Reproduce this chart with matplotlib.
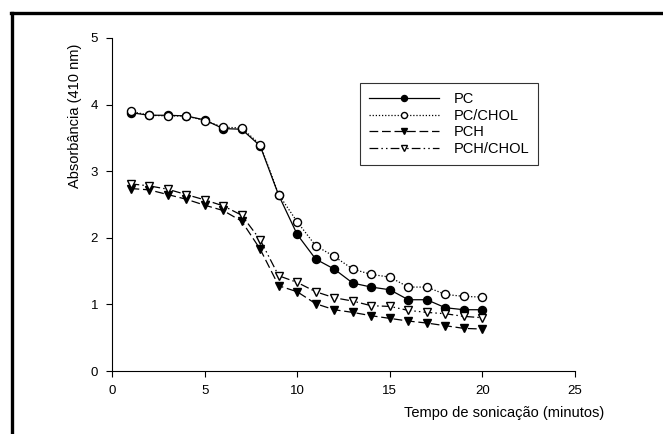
import numpy as np
import matplotlib
matplotlib.use('Agg')
import matplotlib.pyplot as plt
from matplotlib.lines import Line2D

plt.rcParams['font.family'] = ['Liberation Sans', 'DejaVu Sans']

tempo = np.arange(1, 21)

pc = [3.88, 3.84, 3.84, 3.83, 3.77, 3.64, 3.63, 3.38, 2.64, 2.05,
      1.68, 1.53, 1.32, 1.26, 1.22, 1.07, 1.07, 0.95, 0.92, 0.92]
pc_chol = [3.90, 3.84, 3.83, 3.83, 3.76, 3.66, 3.65, 3.40, 2.65, 2.24,
           1.88, 1.72, 1.53, 1.45, 1.41, 1.26, 1.26, 1.15, 1.12, 1.11]
pch = [2.74, 2.72, 2.65, 2.58, 2.49, 2.41, 2.25, 1.83, 1.28, 1.19,
       1.01, 0.92, 0.88, 0.83, 0.79, 0.75, 0.72, 0.68, 0.64, 0.63]
pch_chol = [2.81, 2.78, 2.73, 2.65, 2.57, 2.48, 2.34, 1.97, 1.43, 1.33,
            1.19, 1.10, 1.05, 0.98, 0.97, 0.91, 0.88, 0.86, 0.82, 0.80]

fig = plt.figure(figsize=(6.63, 4.34), dpi=100)
ax = fig.add_axes([112 / 663, 1 - 371 / 434, 463 / 663, 333 / 434])

lw = 0.9
ms = 5.8
ax.plot(tempo, pc, color='black', lw=lw, ls='-', marker='o', ms=ms,
        mfc='black', mec='black', label='PC')
ax.plot(tempo, pc_chol, color='black', lw=lw, ls=(0, (1, 1.5)), marker='o', ms=ms,
        mfc='white', mec='black', label='PC/CHOL')
ax.plot(tempo, pch, color='black', lw=lw, ls=(0, (7, 3)), marker='v', ms=ms + 0.6,
        mfc='black', mec='black', label='PCH')
ax.plot(tempo, pch_chol, color='black', lw=lw, ls=(0, (7, 2.5, 1.2, 2.5, 1.2, 2.5)),
        marker='v', ms=ms + 0.6, mfc='white', mec='black', label='PCH/CHOL')

ax.set_xlim(0, 25)
ax.set_ylim(0, 5)
ax.set_xticks([0, 5, 10, 15, 20, 25])
ax.set_yticks([0, 1, 2, 3, 4, 5])
ax.spines['top'].set_visible(False)
ax.spines['right'].set_visible(False)
ax.spines['left'].set_linewidth(0.8)
ax.spines['bottom'].set_linewidth(0.8)
ax.tick_params(direction='out', length=4, width=0.8, labelsize=9.5, pad=6)

ax.set_xlabel('Tempo de sonicação (minutos)', fontsize=10.5)
ax.xaxis.set_label_coords(0.847, -0.105)
ax.set_ylabel('Absorbância (410 nm)', fontsize=10.5)
ax.yaxis.set_label_coords(-0.065, 0.765)

leg = ax.legend(loc='upper left', bbox_to_anchor=((360 - 112) / 463, (371 - 83) / 333),
                fontsize=10.5, frameon=True, fancybox=False, handlelength=4.8,
                markerscale=0.75, borderpad=0.65, labelspacing=0.17,
                handletextpad=0.95, borderaxespad=0)
leg.get_frame().set_edgecolor('black')
leg.get_frame().set_linewidth(0.8)

# outer frame (partly cut off in the original)
fig.add_artist(Line2D([11 / 663, 1.0], [1 - 12.5 / 434, 1 - 12.5 / 434],
                      transform=fig.transFigure, color='black', lw=2.4))
fig.add_artist(Line2D([12 / 663, 12 / 663], [0, 1 - 12.5 / 434],
                      transform=fig.transFigure, color='black', lw=2.4))

fig.savefig('out.png', dpi=100)
